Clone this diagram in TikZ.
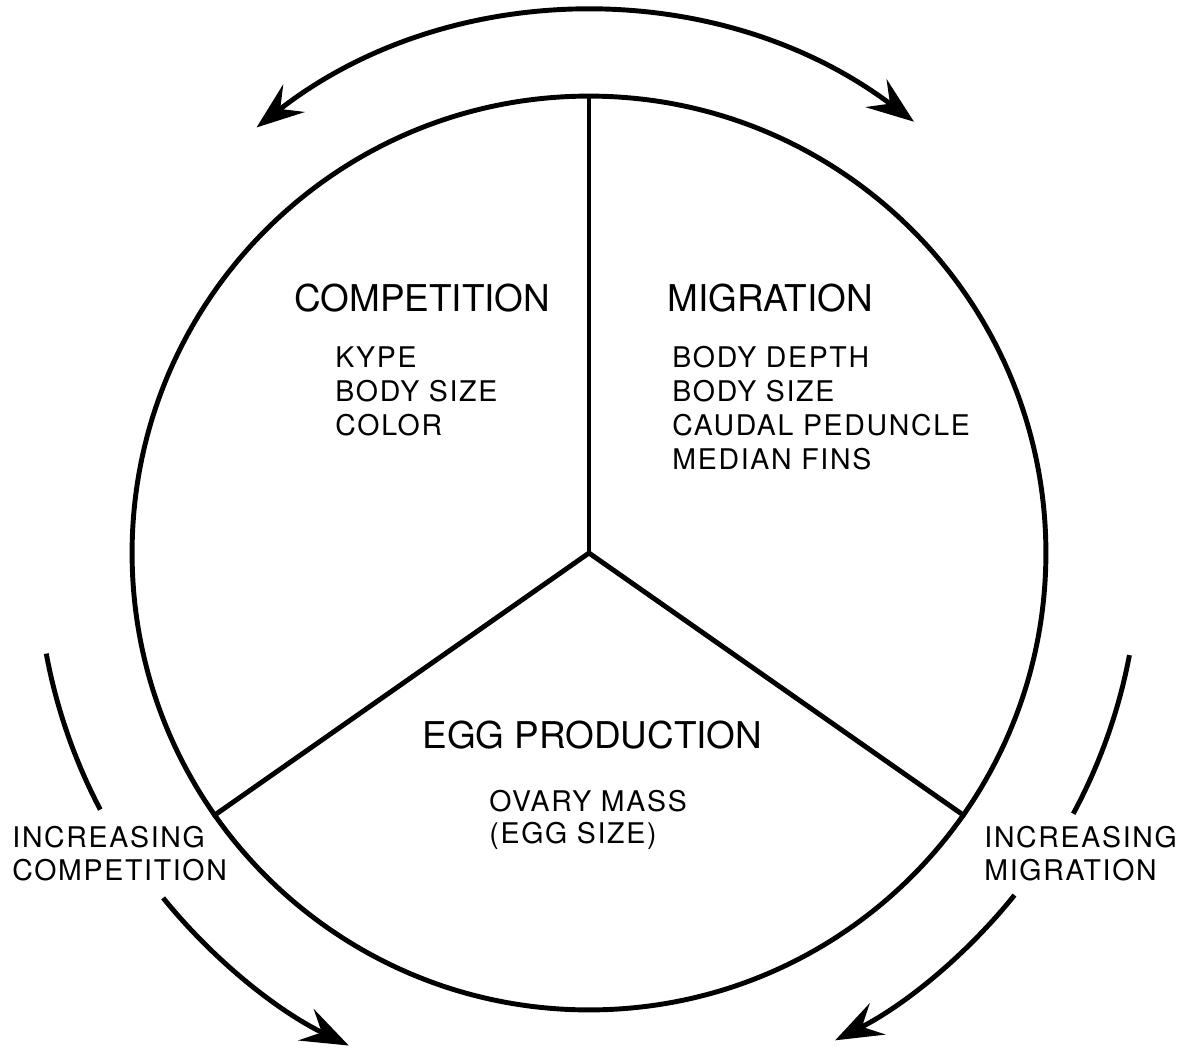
\documentclass[tikz,border=0pt]{standalone}
\usepackage{fontspec}
\setmainfont{TeX Gyre Heros}
\newfontfamily\itemfont[LetterSpace=6]{TeX Gyre Heros}
\usetikzlibrary{arrows.meta}

\begin{document}
\begin{tikzpicture}[x=0.02cm, y=0.02cm, line width=2.8pt,
    head/.style={anchor=base west, inner sep=0, font=\fontsize{21}{25}\selectfont},
    item/.style={anchor=base west, inner sep=0, font=\itemfont\fontsize{16.2}{19}\selectfont},
    ponta/.tip={Stealth[length=0.95cm, width=0.7cm, inset=0.35cm]},
    seta/.style={-ponta},
    setas/.style={ponta-ponta}]

        \useasboundingbox (-589,-496) rectangle (590,553);

        % Círculo
        \node (roda) [circle, draw, minimum size=18.28cm, inner sep=0] at (0,0) {};

        % Divisões
        \draw (roda.center) -- (roda.90);
        \draw (roda.center) -- (roda.215);
        \draw (roda.center) -- (roda.325);

        % Textos dos setores
        \node[head] (comp) at (-297,242) {COMPETITION};
        \node[item] (kype) at (-256,186) {KYPE};
        \node[item] (bsize1) at (-256,152) {BODY SIZE};
        \node[item] (color) at (-256,118) {COLOR};

        \node[head] (migr) at (76,242) {MIGRATION};
        \node[item] (bdepth) at (81,186) {BODY DEPTH};
        \node[item] (bsize2) at (81,152) {BODY SIZE};
        \node[item] (caudal) at (81,118) {CAUDAL PEDUNCLE};
        \node[item] (fins) at (81,84) {MEDIAN FINS};

        \node[head] (egg) at (-169,-195) {EGG PRODUCTION};
        \node[item] (ovary) at (-102,-258) {OVARY MASS};
        \node[item] (eggsize) at (-102,-290) {(EGG SIZE)};

        % Rótulos de fora
        \node[item] (incC) at (-579,-294) {INCREASING};
        \node[item] (compC) at (-579,-327) {COMPETITION};
        \node[item] (incM) at (393,-294) {INCREASING};
        \node[item] (migM) at (393,-327) {MIGRATION};

        % Setas
        \coordinate (topo) at (128:540);
        \coordinate (esqA) at (190.5:552);
        \coordinate (esqB) at (219:548);
        \coordinate (dirA) at (349.3:550);
        \coordinate (dirB) at (321.2:546);

        \draw[setas] (topo) arc[start angle=128, end angle=53, radius=540];
        \draw (esqA) arc[start angle=190.5, end angle=207.7, radius=552];
        \draw[seta] (esqB) arc[start angle=219, end angle=244, radius=548];
        \draw (dirA) arc[start angle=349.3, end angle=331.7, radius=550];
        \draw[seta] (dirB) arc[start angle=321.2, end angle=296.8, radius=546];

    \end{tikzpicture}
\end{document}
